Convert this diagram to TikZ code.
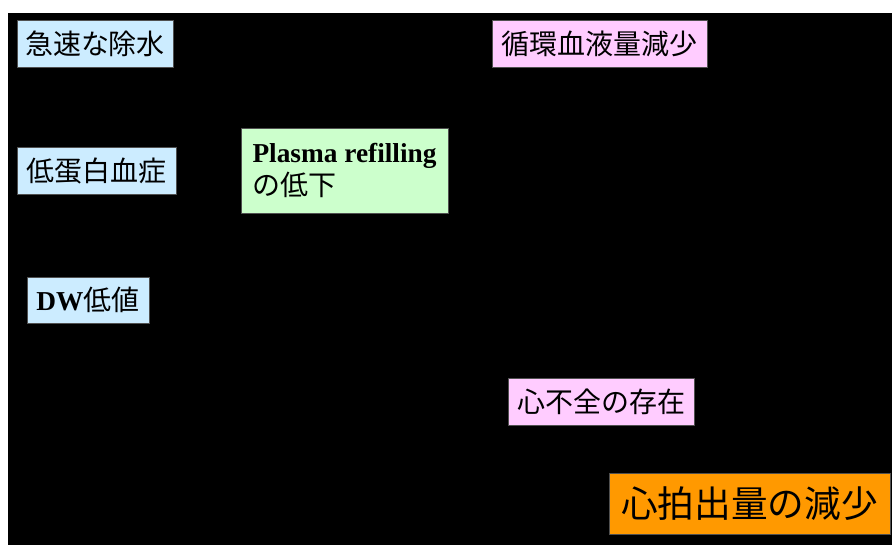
\documentclass[tikz,border=0pt]{standalone}
\usepackage{fontspec}
\setmainfont{Liberation Serif}
\newfontfamily\jp{Noto Sans CJK JP}
\definecolor{cblue}{HTML}{CCECFF}
\definecolor{cpink}{HTML}{FFCCFF}
\definecolor{cgreen}{HTML}{CCFFCC}
\definecolor{corange}{HTML}{FF9900}
\definecolor{cedge}{HTML}{505050}
\begin{document}
\begin{tikzpicture}[x=0.75pt,y=-0.75pt,
  box/.style={draw=cedge, line width=0.6pt, inner sep=0pt, text=black,
    font=\jp\fontsize{21}{25}\selectfont},
  bluebox/.style={box, fill=cblue},
  pinkbox/.style={box, fill=cpink},
  greenbox/.style={box, fill=cgreen},
  orangebox/.style={box, fill=corange, font=\jp\fontsize{27.5}{32}\selectfont}]
\useasboundingbox (0,0) rectangle (892,545);
\fill[white] (0,0) rectangle (892,545);
\fill[black] (8,13) rectangle (892,545);

\node[bluebox, minimum width=117pt, minimum height=35.25pt] (kyusoku) at (95,43.5) {急速な除水};
\node[pinkbox, minimum width=161.25pt, minimum height=35.25pt] (junkan) at (599.5,43.5) {循環血液量減少};
\node[bluebox, minimum width=119.25pt, minimum height=35.25pt] (teitanpaku) at (96.5,170.5) {低蛋白血症};
\node[greenbox, minimum width=155.25pt, minimum height=63.75pt, align=left] (plasma) at (344.5,170.5)
  {{\rmfamily\bfseries\fontsize{20.5}{25}\selectfont Plasma refilling}\\の低下};
\node[bluebox, minimum width=91.5pt, minimum height=34.5pt] (dw) at (88,300)
  {{\rmfamily\bfseries\fontsize{20.5}{25}\selectfont DW}低値};
\node[pinkbox, minimum width=139.5pt, minimum height=35.25pt] (shinfuzen) at (601,401.5) {心不全の存在};
\node[orangebox, minimum width=210.75pt, minimum height=45.75pt] (shinpaku) at (749.5,503.5) {心拍出量の減少};
\end{tikzpicture}
\end{document}
